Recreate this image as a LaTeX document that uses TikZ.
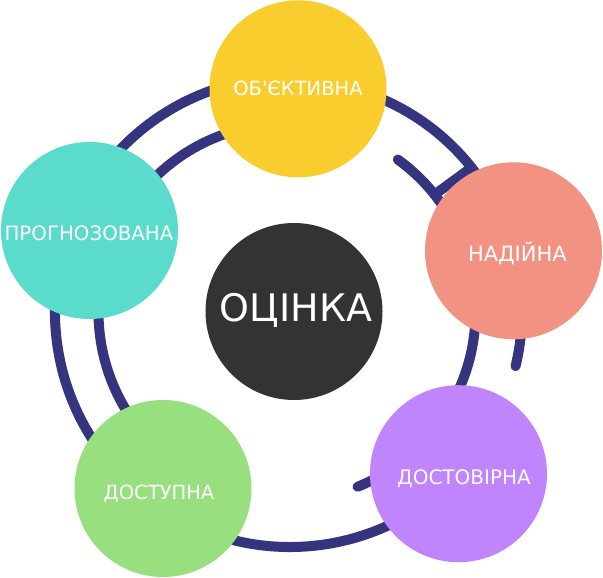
\documentclass[tikz,border=0pt]{standalone}
\usepackage{fontspec}
\setmainfont{DejaVu Sans}
\font\aposfont="DejaVu Sans" at 19.5pt
\definecolor{navy}{HTML}{35347F}
\definecolor{cyellow}{HTML}{F9CD2E}
\definecolor{csalmon}{HTML}{F29282}
\definecolor{cpurple}{HTML}{C084FC}
\definecolor{cgreen}{HTML}{98E07F}
\definecolor{cteal}{HTML}{5BDBCB}
\definecolor{cdark}{HTML}{333333}
\begin{document}
\begin{tikzpicture}[x=1pt,y=1pt,
  ring/.style={draw=navy, line width=10pt, line cap=round},
  bubble/.style={circle, minimum size=177pt, inner sep=0pt},
  lbl/.style={text=white, font=\fontsize{19.5}{20}\selectfont, anchor=base, inner sep=0pt}]
\useasboundingbox (0,0) rectangle (603,578);
\fill[white] (0,0) rectangle (603,578);
\coordinate (Oo) at (290,266);
\coordinate (Oi) at (287,266);
% outer ring, left part (yellow -> teal -> green -> purple)
\draw[ring] (Oo) ++(100:235pt) arc[start angle=100, end angle=325, radius=235pt];
% outer ring, right part (yellow -> salmon -> stub)
\draw[ring] (Oo) ++(75:232pt) arc[start angle=75, end angle=-13.5, radius=232pt];
% inner ring, left part (yellow -> teal -> green)
\draw[ring] (Oi) ++(100:188.5pt) arc[start angle=100, end angle=220, radius=188.5pt];
% inner ring, right part (stub -> salmon -> purple -> stub)
\draw[ring] (Oi) ++(54:188.5pt) arc[start angle=54, end angle=-68, radius=188.5pt];
% radial link
\coordinate (li) at ([shift={(38.5:188.5pt)}]Oi);
\coordinate (lo) at ([shift={(38.5:232pt)}]Oo);
\draw[ring] (li) -- (lo);
% bubbles
\node[bubble, fill=cyellow] (obj) at (298,489.2) {};
\node[bubble, fill=csalmon] (nad) at (513.5,327.2) {};
\node[bubble, fill=cpurple] (dov) at (458.5,104.3) {};
\node[bubble, fill=cgreen]  (dos) at (163,89.5) {};
\node[bubble, fill=cteal]   (pro) at (89.5,347.5) {};
\node[bubble, fill=cdark]   (oc)  at (294,266.5) {};
% labels
\node[lbl] (objt) at (298,482) {ОБ{\aposfont'}ЄКТИВНА};
\node[lbl, font=\fontsize{21}{22}\selectfont] (nadt) at (517.5,316.5) {НАДІЙНА};
\node[lbl, font=\fontsize{20}{21}\selectfont] (dovt) at (464,93) {ДОСТОВІРНА};
\node[lbl] (dost) at (159,78) {ДОСТУПНА};
\node[lbl, font=\fontsize{19.8}{21}\selectfont] (prot) at (89,337) {ПРОГНОЗОВАНА};
\node[lbl, font=\fontsize{38}{40}\selectfont] (oct) at (296,256) {ОЦІНКА};
\end{tikzpicture}
\end{document}
